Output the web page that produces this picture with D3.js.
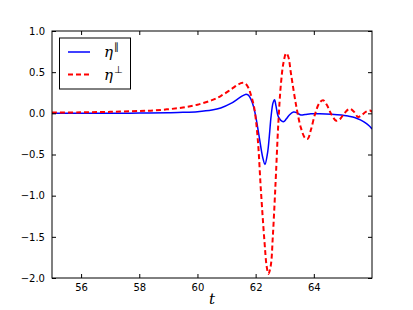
<!DOCTYPE html>
<html>
<head>
<meta charset="utf-8">
<script src="https://cdn.jsdelivr.net/npm/d3@7"></script>
<style>
  body { margin: 0; background: #fff; }
  svg { display: block; }
</style>
</head>
<body>
<script>
// eta parallel (solid blue)
const tPar = [55, 57, 58, 59, 59.5, 60, 60.5, 60.8, 61.15, 61.45, 61.65, 61.75, 61.84, 61.93, 62.01, 62.12, 62.24, 62.32, 62.41, 62.47, 62.53, 62.6, 62.65, 62.7, 62.76, 62.81, 62.9, 62.97, 63.05, 63.16, 63.3, 63.4, 63.55, 63.7, 63.9, 64.2, 64.6, 64.95, 65.2, 65.4, 65.6, 65.75, 65.9, 66];
const etaPar = [0.0, 0.0, 0.003, 0.008, 0.012, 0.02, 0.04, 0.065, 0.12, 0.19, 0.23, 0.22, 0.17, 0.08, -0.05, -0.28, -0.53, -0.62, -0.48, -0.28, -0.04, 0.13, 0.165, 0.09, -0.02, -0.06, -0.095, -0.10, -0.07, -0.02, 0.015, 0.01, -0.02, -0.015, -0.005, -0.005, -0.01, -0.02, -0.035, -0.05, -0.08, -0.11, -0.15, -0.19];

// eta perpendicular (dashed red)
const tPerp = [55, 56, 57, 58, 58.5, 59, 59.5, 60, 60.5, 60.8, 61.15, 61.4, 61.55, 61.65, 61.75, 61.85, 61.95, 62.07, 62.18, 62.3, 62.38, 62.44, 62.52, 62.59, 62.65, 62.7, 62.78, 62.87, 62.96, 63.05, 63.12, 63.22, 63.39, 63.56, 63.7, 63.79, 63.9, 64.05, 64.2, 64.32, 64.45, 64.6, 64.77, 64.9, 65.05, 65.23, 65.38, 65.52, 65.65, 65.8, 65.93, 66];
const etaPerp = [0.01, 0.012, 0.018, 0.028, 0.035, 0.05, 0.07, 0.105, 0.16, 0.21, 0.29, 0.35, 0.37, 0.36, 0.31, 0.21, 0.07, -0.3, -0.93, -1.54, -1.86, -1.95, -1.85, -1.5, -1.1, -0.73, -0.12, 0.36, 0.62, 0.73, 0.69, 0.47, 0.1, -0.18, -0.30, -0.31, -0.2, 0.0, 0.13, 0.16, 0.10, -0.01, -0.09, -0.07, 0.0, 0.055, 0.02, -0.045, -0.02, 0.02, 0.035, 0.015];

const xTicks = [56, 58, 60, 62, 64];
const yTicks = [1.0, 0.5, 0.0, -0.5, -1.0, -1.5, -2.0];

const width = 413, height = 310;
const margin = {top: 31, right: 41, bottom: 32, left: 52};

const svg = d3.select("body").append("svg")
    .attr("width", width)
    .attr("height", height);

const x = d3.scaleLinear().domain([55, 66]).range([margin.left, width - margin.right]);
const y = d3.scaleLinear().domain([-2, 1]).range([height - margin.bottom, margin.top]);

const parData = tPar.map((t, i) => [t, etaPar[i]]);
const perpData = tPerp.map((t, i) => [t, etaPerp[i]]);

const line = d3.line()
    .x(d => x(d[0]))
    .y(d => y(d[1]))
    .curve(d3.curveCatmullRom.alpha(0.5));

// clip to plot area
svg.append("clipPath").attr("id", "clip")
  .append("rect")
    .attr("x", margin.left).attr("y", margin.top)
    .attr("width", width - margin.left - margin.right)
    .attr("height", height - margin.top - margin.bottom);

const plot = svg.append("g").attr("clip-path", "url(#clip)");

plot.append("path")
    .datum(parData)
    .attr("fill", "none")
    .attr("stroke", "#0000ff")
    .attr("stroke-width", 1.5)
    .attr("d", line);

plot.append("path")
    .datum(perpData)
    .attr("fill", "none")
    .attr("stroke", "#ff0000")
    .attr("stroke-width", 2)
    .attr("stroke-dasharray", "5,3")
    .attr("d", line);

// axes, ticks pointing inward like matplotlib classic
const tickStyle = g => {
  g.select(".domain").remove();
  g.selectAll(".tick line").attr("stroke", "#000");
  g.selectAll(".tick text")
    .attr("font-family", "DejaVu Sans, sans-serif")
    .attr("font-size", 10)
    .attr("fill", "#000");
};

const fmt = d => d3.format(".1f")(d).replace("-", "\u2212");

svg.append("g")
    .attr("transform", `translate(0,${height - margin.bottom})`)
    .call(d3.axisBottom(x).tickValues(xTicks).tickSize(-4).tickPadding(6))
    .call(tickStyle);

svg.append("g")
    .attr("transform", `translate(0,${margin.top})`)
    .call(d3.axisTop(x).tickValues(xTicks).tickSize(-4).tickFormat(""))
    .call(tickStyle);

svg.append("g")
    .attr("transform", `translate(${margin.left},0)`)
    .call(d3.axisLeft(y).tickValues(yTicks).tickSize(-4).tickPadding(7).tickFormat(fmt))
    .call(tickStyle);

svg.append("g")
    .attr("transform", `translate(${width - margin.right},0)`)
    .call(d3.axisRight(y).tickValues(yTicks).tickSize(-4).tickFormat(""))
    .call(tickStyle);

// frame
svg.append("rect")
    .attr("x", margin.left).attr("y", margin.top)
    .attr("width", width - margin.left - margin.right)
    .attr("height", height - margin.top - margin.bottom)
    .attr("fill", "none")
    .attr("stroke", "#000")
    .attr("stroke-width", 1);

// x label
svg.append("text")
    .attr("x", x(60.5))
    .attr("y", 304)
    .attr("text-anchor", "middle")
    .attr("font-family", "DejaVu Serif, serif")
    .attr("font-style", "italic")
    .attr("font-size", 15)
    .text("t");

// legend
const legend = svg.append("g");
legend.append("rect")
    .attr("x", 59.5).attr("y", 38)
    .attr("width", 71).attr("height", 51)
    .attr("fill", "#fff")
    .attr("stroke", "#000")
    .attr("stroke-width", 1);

const entries = [
  {color: "#0000ff", dash: null, w: 1.5, sup: "\u2225"},
  {color: "#ff0000", dash: "5,3", w: 2, sup: "\u22A5"}
];

entries.forEach((e, i) => {
  const yy = 52 + i * 22.5;
  legend.append("line")
      .attr("x1", 68).attr("x2", 90)
      .attr("y1", yy).attr("y2", yy)
      .attr("stroke", e.color)
      .attr("stroke-width", e.w)
      .attr("stroke-dasharray", e.dash);
  const t = legend.append("text")
      .attr("x", 104)
      .attr("y", yy + 5)
      .attr("font-family", "DejaVu Serif, serif")
      .attr("font-size", 15);
  t.append("tspan").attr("font-style", "italic").text("\u03B7");
  t.append("tspan")
      .attr("dy", -7)
      .attr("dx", 1)
      .attr("font-size", 10)
      .attr("font-family", "DejaVu Sans, sans-serif")
      .text(e.sup);
});
</script>
</body>
</html>
